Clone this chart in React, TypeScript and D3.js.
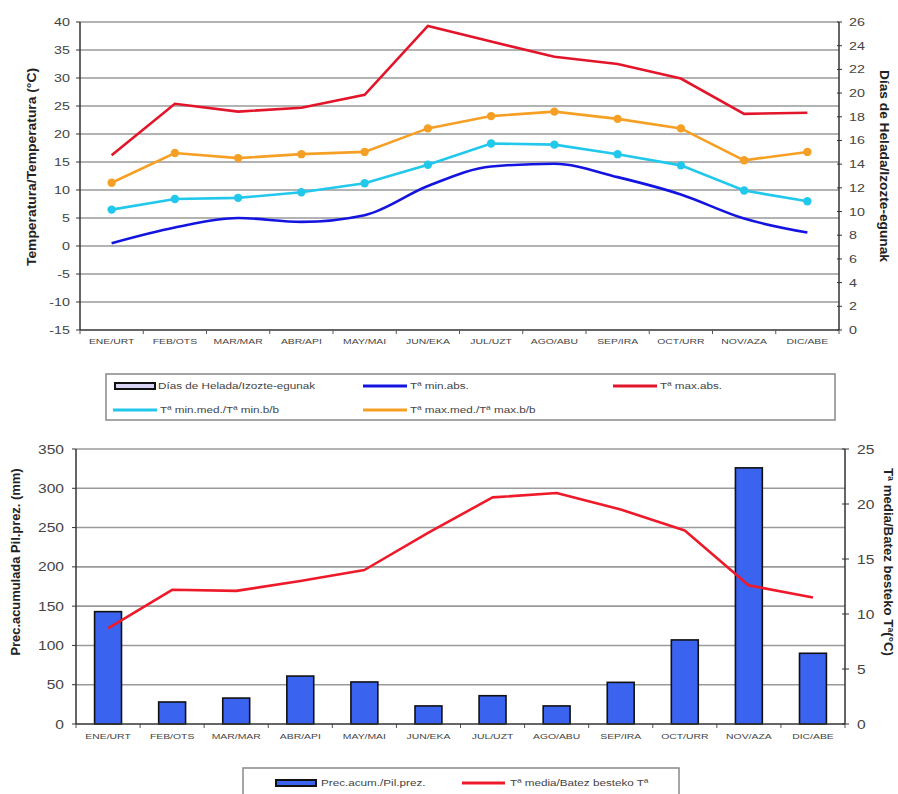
import React from "react";
import * as d3 from "d3";

const months = [
  "ENE/URT", "FEB/OTS", "MAR/MAR", "ABR/API", "MAY/MAI", "JUN/EKA",
  "JUL/UZT", "AGO/ABU", "SEP/IRA", "OCT/URR", "NOV/AZA", "DIC/ABE",
];

// top chart (°C)
const tMaxAbs = [16.2, 25.4, 24, 24.7, 27, 39.3, 36.5, 33.8, 32.5, 29.9, 23.6, 23.8];
const tMaxMed = [11.3, 16.6, 15.7, 16.4, 16.8, 21, 23.2, 24, 22.7, 21, 15.3, 16.8];
const tMinMed = [6.5, 8.4, 8.6, 9.6, 11.2, 14.5, 18.3, 18.1, 16.4, 14.4, 9.9, 8];
const tMinAbs = [0.5, 3.3, 5, 4.3, 5.5, 10.7, 14.2, 14.7, 12.3, 9.2, 4.9, 2.4];
const leftTicks = [40, 35, 30, 25, 20, 15, 10, 5, 0, -5, -10, -15];
const rightTicks = [0, 2, 4, 6, 8, 10, 12, 14, 16, 18, 20, 22, 24, 26];

// bottom chart
const precip = [143, 28, 33, 61, 53.5, 23, 36, 23, 53, 107, 326, 90];
const tMedia = [8.7, 12.2, 12.1, 13, 14, 17.4, 20.6, 21, 19.5, 17.6, 12.6, 11.5];
const precTicks = [0, 50, 100, 150, 200, 250, 300, 350];
const tMediaTicks = [0, 5, 10, 15, 20, 25];

const font = "'Liberation Sans', Arial, sans-serif";
const grid = "#9a9a9a";
const txt = "#444";
const SX = 1.3; // the picture's text is wide

// text drawn a bit stretched sideways, like the source image
const T = ({ x, y, size, anchor, children }: any) => (
  <text
    transform={`translate(${x},${y}) scale(${SX},1)`}
    fontSize={size}
    textAnchor={anchor || "start"}
    fill={txt}
  >
    {children}
  </text>
);

const App: React.FC = () => {
  // top chart geometry
  const t = { l: 80, r: 839, t: 22, b: 330 };
  const xT = d3.scaleBand<string>().domain(months).range([t.l, t.r]);
  const yT = d3.scaleLinear().domain([-15, 40]).range([t.b, t.t]);
  const yTR = d3.scaleLinear().domain([0, 26]).range([t.b, t.t]);
  const cxT = (i: number) => (xT(months[i]) as number) + xT.bandwidth() / 2;

  const lineT = (vals: number[], curve: d3.CurveFactory) =>
    d3
      .line<number>()
      .x((_, i) => cxT(i))
      .y((d) => yT(d))
      .curve(curve)(vals) as string;

  // bottom chart geometry
  const b = { l: 76, r: 845, t: 449, b: 724 };
  const xB = d3.scaleBand<string>().domain(months).range([b.l, b.r]).paddingInner(0.58).paddingOuter(0.29);
  const xBc = d3.scaleBand<string>().domain(months).range([b.l, b.r]);
  const yB = d3.scaleLinear().domain([0, 350]).range([b.b, b.t]);
  const yBR = d3.scaleLinear().domain([0, 25]).range([b.b, b.t]);
  const cxB = (i: number) => (xBc(months[i]) as number) + xBc.bandwidth() / 2;
  const lineB = d3
    .line<number>()
    .x((_, i) => cxB(i))
    .y((d) => yBR(d))
    .curve(d3.curveLinear)(tMedia) as string;

  const bounds = (sc: d3.ScaleBand<string>) =>
    months.map((m) => sc(m) as number).concat([sc.range()[1]]);

  const yTitle = (x: number, y: number, rot: number, len: number, s: string) => (
    <text
      transform={`translate(${x},${y}) rotate(${rot})`}
      textAnchor="middle"
      fontSize={13}
      fontWeight="bold"
      fill="#222"
      textLength={len}
      lengthAdjust="spacingAndGlyphs"
    >
      {s}
    </text>
  );

  return (
    <svg
      width={898}
      height={794}
      style={{ position: "absolute", left: 0, top: 0, background: "#fff" }}
      fontFamily={font}
    >
      {/* ---------- top chart ---------- */}
      {leftTicks.map((v) => (
        <g key={"lt" + v}>
          {v !== -15 && (
            <line x1={t.l} x2={t.r} y1={yT(v)} y2={yT(v)} stroke={grid} strokeWidth={1.6} />
          )}
          <line x1={t.l - 4} x2={t.l} y1={yT(v)} y2={yT(v)} stroke="#333" />
          <T x={t.l - 10} y={yT(v) + 4} size={11} anchor="end">{v}</T>
        </g>
      ))}
      {rightTicks.map((v) => (
        <g key={"rt" + v}>
          <line x1={t.r - 2} x2={t.r + 3} y1={yTR(v)} y2={yTR(v)} stroke="#333" />
          <T x={t.r + 10} y={yTR(v) + 4} size={11}>{v}</T>
        </g>
      ))}
      <line x1={t.l} x2={t.l} y1={t.t} y2={t.b} stroke="#333" strokeWidth={1.5} />
      <line x1={t.r} x2={t.r} y1={t.t} y2={t.b} stroke="#333" strokeWidth={1.5} />
      <line x1={t.l} x2={t.r} y1={t.b} y2={t.b} stroke="#333" strokeWidth={1.5} />
      {bounds(xT).map((x, i) => (
        <line key={"xt" + i} x1={x} x2={x} y1={t.b} y2={t.b + 4} stroke="#555" />
      ))}
      {months.map((m, i) => (
        <T key={"xl" + m} x={cxT(i)} y={t.b + 14} size={8} anchor="middle">{m}</T>
      ))}

      <path d={lineT(tMinAbs, d3.curveMonotoneX)} fill="none" stroke="#1414e0" strokeWidth={2.6} />
      <path d={lineT(tMinMed, d3.curveLinear)} fill="none" stroke="#22c8ec" strokeWidth={2.6} />
      <path d={lineT(tMaxMed, d3.curveLinear)} fill="none" stroke="#f5a025" strokeWidth={2.6} />
      <path d={lineT(tMaxAbs, d3.curveLinear)} fill="none" stroke="#e3152b" strokeWidth={2.6} />
      {tMinMed.map((v, i) => (
        <circle key={"cm" + i} cx={cxT(i)} cy={yT(v)} r={4.2} fill="#22c8ec" />
      ))}
      {tMaxMed.map((v, i) => (
        <circle key={"om" + i} cx={cxT(i)} cy={yT(v)} r={4.2} fill="#f5a025" />
      ))}

      {yTitle(36, 167, -90, 198, "Temperatura/Temperatura (°C)")}
      {yTitle(880, 166, 90, 192, "Días de Helada/Izozte-egunak")}

      {/* top legend */}
      <rect x={106} y={374} width={729} height={46} fill="#fff" stroke="#888" strokeWidth={1.5} />
      <rect x={115} y={383} width={40} height={6} fill="#d8d4f4" stroke="#111" strokeWidth={2} />
      <T x={158} y={389} size={9}>Días de Helada/Izozte-egunak</T>
      <line x1={363} x2={407} y1={386} y2={386} stroke="#1414e0" strokeWidth={3} />
      <T x={410} y={389} size={9}>Tª min.abs.</T>
      <line x1={613} x2={657} y1={386} y2={386} stroke="#e3152b" strokeWidth={3} />
      <T x={660} y={389} size={9}>Tª max.abs.</T>
      <line x1={113} x2={157} y1={410} y2={410} stroke="#22c8ec" strokeWidth={3} />
      <T x={160} y={413} size={9}>Tª min.med./Tª min.b/b</T>
      <line x1={363} x2={407} y1={410} y2={410} stroke="#f5a025" strokeWidth={3} />
      <T x={410} y={413} size={9}>Tª max.med./Tª max.b/b</T>

      {/* ---------- bottom chart ---------- */}
      {precTicks.map((v) => (
        <g key={"pt" + v}>
          {v !== 0 && (
            <line x1={b.l} x2={b.r} y1={yB(v)} y2={yB(v)} stroke={grid} strokeWidth={1.6} />
          )}
          <line x1={b.l - 4} x2={b.l} y1={yB(v)} y2={yB(v)} stroke="#333" />
          <T x={b.l - 12} y={yB(v) + 4.5} size={12} anchor="end">{v}</T>
        </g>
      ))}
      {tMediaTicks.map((v) => (
        <g key={"mt" + v}>
          <line x1={b.r - 3} x2={b.r + 4} y1={yBR(v)} y2={yBR(v)} stroke="#333" />
          <T x={b.r + 12} y={yBR(v) + 4.5} size={12}>{v}</T>
        </g>
      ))}
      <line x1={b.l} x2={b.l} y1={b.t} y2={b.b} stroke="#333" strokeWidth={1.5} />
      <line x1={b.r} x2={b.r} y1={b.t} y2={b.b} stroke="#333" strokeWidth={1.5} />
      {bounds(xBc).map((x, i) => (
        <line key={"bt" + i} x1={x} x2={x} y1={b.b} y2={b.b + 4} stroke="#555" />
      ))}

      {precip.map((v, i) => (
        <rect
          key={"bar" + i}
          x={xB(months[i]) as number}
          y={yB(v)}
          width={xB.bandwidth()}
          height={b.b - yB(v)}
          fill="#3a63f0"
          stroke="#111"
          strokeWidth={1.6}
        />
      ))}
      <line x1={b.l} x2={b.r} y1={b.b} y2={b.b} stroke="#333" strokeWidth={1.5} />
      {months.map((m, i) => (
        <T key={"bl" + m} x={cxB(i)} y={b.b + 15} size={8} anchor="middle">{m}</T>
      ))}
      <path d={lineB} fill="none" stroke="#ee1a2a" strokeWidth={2.6} strokeLinejoin="round" />

      {yTitle(20, 562, -90, 187, "Prec.acumulada Pil.prez. (mm)")}
      {yTitle(884, 562, 90, 188, "Tª media/Batez besteko Tª(°C)")}

      {/* bottom legend */}
      <rect x={243} y={768} width={436} height={40} fill="#fff" stroke="#888" strokeWidth={1.5} />
      <rect x={276} y={780} width={40} height={6} fill="#3a63f0" stroke="#111" strokeWidth={2} />
      <T x={321} y={786} size={9}>Prec.acum./Pil.prez.</T>
      <line x1={462} x2={505} y1={783} y2={783} stroke="#ee1a2a" strokeWidth={3} />
      <T x={510} y={786} size={9}>Tª media/Batez besteko Tª</T>
    </svg>
  );
};

export default App;
